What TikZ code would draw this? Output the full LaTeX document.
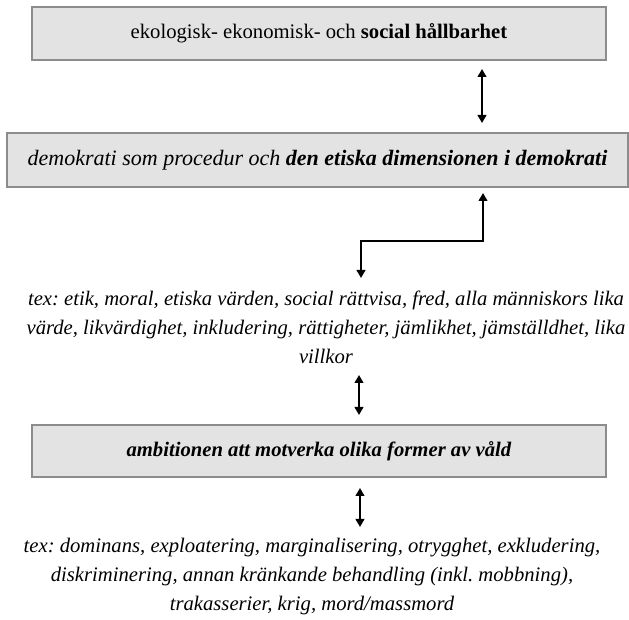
\documentclass[tikz,border=0pt]{standalone}
\usepackage{fontspec}
\setmainfont{Liberation Serif}
\usetikzlibrary{arrows.meta}
\definecolor{boxline}{HTML}{8C8C8C}
\definecolor{boxfill}{HTML}{E3E3E3}
\frenchspacing
\begin{document}
\begin{tikzpicture}[x=0.75pt, y=-0.75pt]

    \tikzset{boxstyle/.style={draw=boxline, fill=boxfill, line width=1pt, inner sep=0pt, align=center, font=\fontsize{15.5}{21.75}\selectfont}}
    \tikzset{listtext/.style={align=center, font=\fontsize{15.5}{21.75}\selectfont\itshape}}
    \tikzset{linkstyle/.style={line width=1.6pt, {Triangle[length=6pt,width=6.5pt]}-{Triangle[length=6pt,width=6.5pt]}}}

    \useasboundingbox (0,0) rectangle (629,620);

    \node[boxstyle, minimum width=574*0.75pt, minimum height=53*0.75pt] (b1) at (319,33.5) {ekologisk- ekonomisk- och \textbf{social hållbarhet}};
    \node[boxstyle, minimum width=621*0.75pt, minimum height=54*0.75pt, font=\fontsize{16.5}{21.75}\selectfont] (b2) at (317.5,160) {\textit{demokrati som procedur och \textbf{den etiska dimensionen i demokrati}}};
    \node[listtext] (t1) at (326,327) {tex: etik, moral, etiska värden, social rättvisa, fred, alla människors lika\\ värde, likvärdighet, inkludering, rättigheter, jämlikhet, jämställdhet, lika\\ villkor};
    \node[boxstyle, minimum width=574*0.75pt, minimum height=52*0.75pt] (b3) at (319,451) {\textbf{\textit{ambitionen att motverka olika former av våld}}};
    \node[listtext] (t2) at (312,577) {tex: dominans, exploatering, marginalisering, otrygghet, exkludering,\\ diskriminering, annan kränkande behandling (inkl. mobbning),\\ trakasserier, krig, mord/massmord};

    % pilar
    \coordinate (a1) at (482,69);
    \coordinate (a2) at (482,123);
    \draw[linkstyle] (a1) -- (a2);

    \coordinate (e1) at (483,193);
    \coordinate (ek) at (361,241);
    \coordinate (e2) at (361,278);
    \draw[linkstyle] (e1) |- (ek) -- (e2);

    \coordinate (a3) at (359,375);
    \coordinate (a4) at (359,415);
    \draw[linkstyle] (a3) -- (a4);

    \coordinate (a5) at (360,488);
    \coordinate (a6) at (360,527);
    \draw[linkstyle] (a5) -- (a6);

\end{tikzpicture}
\end{document}
